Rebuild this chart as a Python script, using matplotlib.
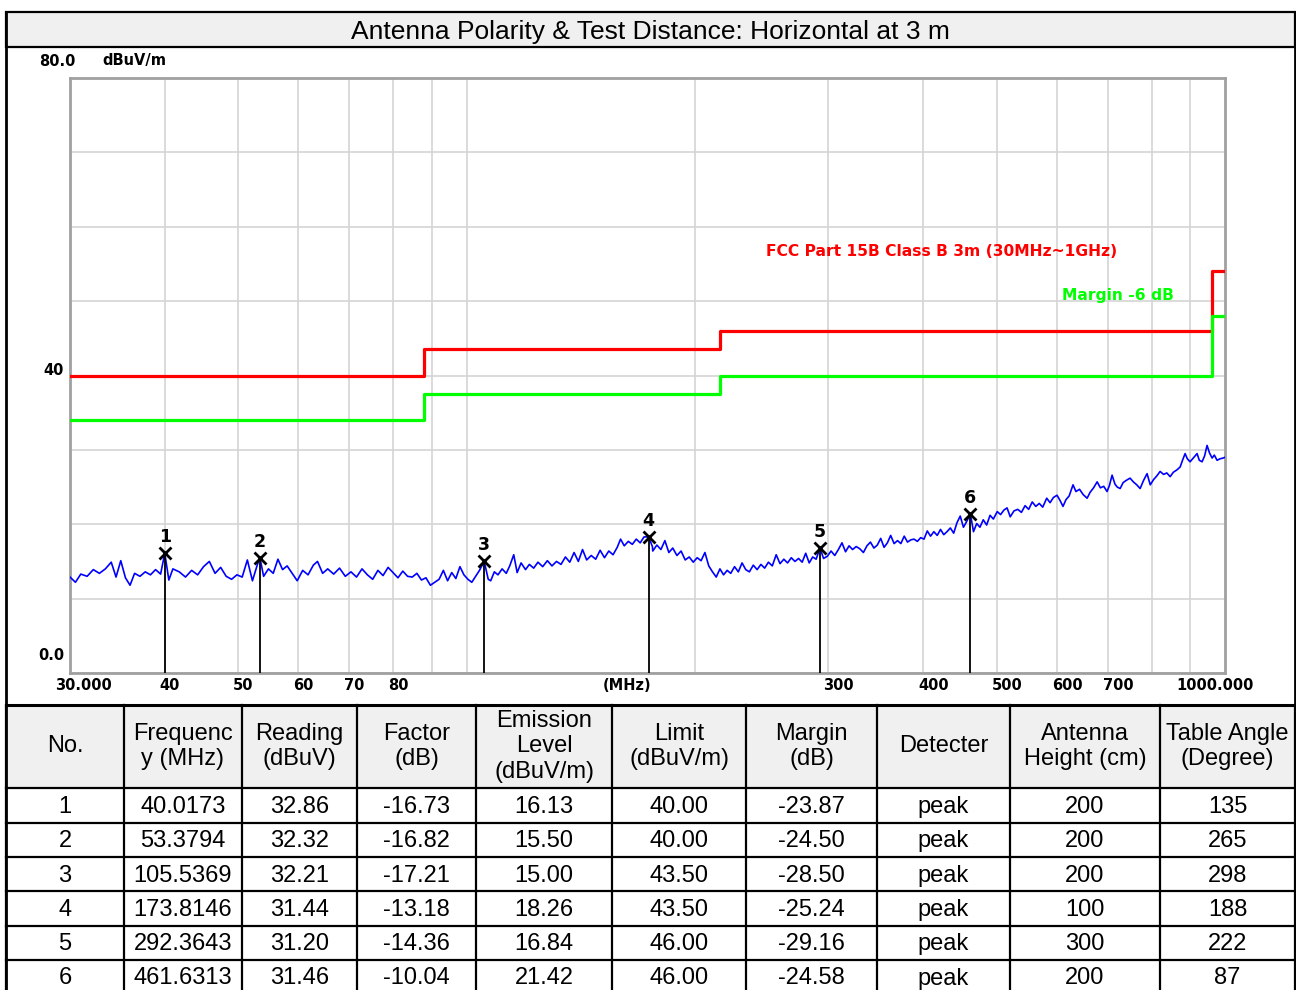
import matplotlib
matplotlib.use("Agg")
import matplotlib.pyplot as plt
from matplotlib.lines import Line2D
from matplotlib.patches import Rectangle
from matplotlib.ticker import NullLocator

W, H = 1296, 990

TITLE = "Antenna Polarity & Test Distance: Horizontal at 3 m"
LIMIT_NAME = "FCC Part 15B Class B 3m (30MHz~1GHz)"
MARGIN_NAME = "Margin -6 dB"

# limit line (step, post)
LIMIT_FREQ = [30, 88, 216, 960, 1000]
LIMIT_LEVEL = [40, 43.5, 46, 54, 54]
MARGIN_LEVEL = [34, 37.5, 40, 48, 48]

TRACE_FREQ = [
    30.0, 30.5, 31.0, 31.6, 32.2, 32.8, 33.4, 34.0, 34.5, 35.0, 35.5, 36.0, 36.5, 37.1, 37.7,
    38.3, 38.9, 39.5, 40.0, 40.5, 41.0,
    41.8, 42.6, 43.4, 44.2, 45.0, 45.8, 46.6, 47.4, 48.2, 49.0, 49.8, 50.6, 51.4, 52.2, 53.0,
    53.4, 54.0, 54.8,
    55.6, 56.4, 57.2, 58.0, 58.8, 59.8, 60.8, 61.8, 62.8, 63.6, 64.6, 65.6, 66.8, 68.0, 69.2,
    70.4, 71.6, 72.8, 74.0, 75.2, 76.4, 77.6, 78.8, 80.0, 81.2, 82.4, 83.6, 84.8, 86.0, 87.2,
    88.4, 89.6, 90.8, 92.0, 93.2, 94.4, 95.6, 96.8, 98.0, 99.2, 100.4, 101.6, 102.8, 104.0,
    105.5, 106.8,
    107.6, 108.8, 110.0, 111.4, 112.8, 114.0, 115.4, 116.6, 118.0, 119.6, 121.0, 122.6, 124.2,
    126.0, 127.8, 129.6, 131.4, 133.2, 135.0, 136.8, 138.6, 140.4, 142.2, 144.0, 146.0, 148.0,
    150.0, 152.0, 154.0, 156.0, 158.0, 159.6, 161.4, 163.4, 165.4, 167.4, 169.4, 171.4, 173.8,
    175.8,
    176.0, 178.2, 180.4, 182.6, 184.8, 187.0, 189.4, 191.8, 194.2, 196.6, 199.0, 201.4, 203.8,
    206.2, 208.6, 211.0, 213.4, 215.8, 218.2, 220.6, 223.0, 225.6, 228.2, 230.8, 233.4, 236.0,
    238.8, 241.6, 244.4, 247.2, 250.0, 253.0, 256.0, 259.0, 262.0, 265.0, 268.0, 271.0, 274.0,
    277.0, 280.0, 283.0, 286.0, 289.0, 292.4, 295.6,
    299.0, 302.4, 305.8, 309.2, 312.6, 316.0, 319.4, 322.8, 326.4, 330.0, 333.6, 337.2, 340.8,
    344.4, 348.0, 351.6, 355.2, 358.8, 362.4, 366.2, 370.0, 373.8, 377.6, 381.4, 385.2, 389.0,
    393.0, 397.0, 401.0, 405.0, 409.0, 413.2, 417.4, 421.6, 425.8, 430.0, 434.4, 438.8, 443.2,
    447.6, 452.0, 456.6, 461.6, 466.0, 470.6, 475.2,
    480.0, 485.0, 490.0, 495.0, 500.8, 506.0, 511.0, 516.0, 521.0, 527.0, 533.0, 539.0, 545.0,
    551.0, 557.0, 563.0, 569.0, 575.0, 582.0, 588.0, 594.0, 600.5, 606.0, 611.5, 617.0, 623.0,
    630.4, 636.0, 643.0, 650.0, 657.9, 664.0, 671.0, 678.3, 685.0, 692.0, 699.0, 704.0, 709.8,
    716.0, 721.0, 727.3, 734.0, 741.0, 749.6, 757.0, 765.0, 772.8, 781.0, 789.3, 797.0, 805.0,
    813.0, 821.2, 830.0, 838.0, 846.6, 855.0, 864.0, 872.7, 879.0, 885.9, 892.0, 899.4, 908.0,
    918.7, 925.0, 932.8, 940.0, 947.0, 954.0, 961.6, 968.0, 976.3, 985.0, 994.3, 1000.0,
]
TRACE_LEVEL = [
    12.9, 12.2, 13.3, 13.0, 13.9, 13.4, 14.0, 14.9, 12.9, 15.1, 12.8, 11.8, 13.4, 13.0, 13.6,
    13.2, 13.9, 13.3, 16.1, 12.5, 14.0,
    13.6, 12.9, 13.8, 13.2, 14.3, 15.0, 13.4, 14.2, 13.0, 12.6, 13.2, 12.9, 15.2, 12.4, 14.6,
    15.5, 13.0, 14.0,
    13.4, 15.3, 13.9, 14.4, 13.5, 12.4, 13.8, 13.2, 14.5, 15.0, 13.4, 14.0, 13.3, 14.1, 13.0,
    13.6, 12.9, 14.0, 13.2, 12.6, 13.8, 13.1, 14.2, 13.5, 12.8, 13.7, 13.0, 12.9, 13.4, 12.5,
    12.8, 11.8, 12.2, 12.6, 13.8, 12.4, 13.5, 12.7, 14.3, 13.2, 12.6, 12.2, 13.0, 13.8,
    15.0, 12.6,
    12.4, 13.6, 13.2, 14.0, 13.4, 14.4, 15.9, 13.5, 14.8, 13.9, 14.6, 14.1, 14.9,
    14.3, 15.1, 14.4, 15.0, 14.6, 15.6, 14.9, 16.2, 15.0, 16.6, 15.2, 15.8, 15.3,
    16.5, 15.5, 16.4, 15.9, 16.9, 18.0, 17.1, 17.7, 17.3, 18.0, 17.5, 18.3, 18.3,
    17.0,
    16.4, 17.2, 16.6, 17.8, 16.2, 16.8, 15.8, 16.4, 15.2, 15.6, 14.9, 15.5, 15.1,
    16.2, 14.4, 13.6, 12.9, 14.0, 13.2, 13.8, 13.4, 14.3, 13.6, 14.8, 13.9, 13.6,
    14.5, 13.9, 14.6, 14.1, 14.9, 14.4, 15.9, 14.7, 15.3, 14.8, 15.5, 15.0, 15.4,
    14.9, 16.1, 14.8, 15.6, 15.3, 16.8, 15.4,
    15.7, 16.4, 15.8, 16.6, 17.5, 16.3, 17.1, 16.6, 17.0, 16.7, 16.2, 17.1, 17.6,
    16.8, 17.2, 18.1, 16.9, 17.5, 18.5, 17.4, 17.8, 17.4, 18.4, 17.6, 17.9, 18.0,
    17.7, 18.2, 18.0, 19.1, 18.4, 19.0, 18.5, 19.3, 18.6, 19.0, 19.5, 18.8, 20.2,
    21.1, 19.6, 20.4, 21.4, 19.0, 20.1, 19.6,
    20.6, 19.9, 21.2, 20.7, 21.7, 21.3, 21.9, 22.2, 21.0, 21.8, 22.0, 21.6, 22.5,
    22.0, 23.0, 22.4, 22.8, 22.3, 23.5, 22.9, 23.6, 23.9, 23.2, 22.4, 23.3, 23.8,
    25.3, 24.4, 24.7, 24.0, 23.5, 24.3, 24.9, 25.7, 24.9, 25.1, 24.4, 25.2, 26.6,
    25.4, 25.0, 24.8, 25.6, 25.9, 26.2, 25.7, 25.3, 24.8, 25.9, 26.8, 25.3, 26.0,
    26.5, 27.1, 26.7, 26.9, 26.4, 27.0, 27.3, 27.7, 28.6, 29.5, 28.8, 28.4, 28.9,
    29.5, 28.6, 28.4, 29.2, 30.6, 29.6, 28.9, 29.3, 28.6, 28.8, 28.9, 29.0,
]

MARK_NO = [1, 2, 3, 4, 5, 6]
MARK_FREQ = [40.0173, 53.3794, 105.5369, 173.8146, 292.3643, 461.6313]
READING = [32.86, 32.32, 32.21, 31.44, 31.20, 31.46]
FACTOR = [-16.73, -16.82, -17.21, -13.18, -14.36, -10.04]
EMISSION = [16.13, 15.50, 15.00, 18.26, 16.84, 21.42]
LIMIT = [40.00, 40.00, 43.50, 43.50, 46.00, 46.00]
MARGIN = [-23.87, -24.50, -28.50, -25.24, -29.16, -24.58]
DETECTOR = ["peak"] * 6
ANT_HEIGHT = [200, 200, 200, 100, 300, 200]
TABLE_ANGLE = [135, 265, 298, 188, 222, 87]

HEADERS = ["No.", "Frequenc\ny (MHz)", "Reading\n(dBuV)", "Factor\n(dB)",
           "Emission\nLevel\n(dBuV/m)", "Limit\n(dBuV/m)", "Margin\n(dB)", "Detecter",
           "Antenna\nHeight (cm)", "Table Angle\n(Degree)"]

X_GRID = [40, 50, 60, 70, 80, 90, 100, 200, 300, 400, 500, 600, 700, 800, 900]
X_LABELS = [40, 50, 60, 70, 80, 300, 400, 500, 600, 700]

COL_EDGES = [6, 124, 242, 357, 476, 612, 746, 877, 1010, 1160, 1295]
ROW_EDGES = [705, 788, 823, 857, 891, 926, 960]

AX_FONT = dict(family="DejaVu Sans", fontweight="bold", fontsize=10.5)
TAB_FONT = dict(family="Liberation Sans", fontsize=17)


def fx(x):
    return x / W


def fy(y):
    return 1 - y / H


def fig_line(fig, x0, y0, x1, y1, lw=1.5, color="black"):
    fig.add_artist(Line2D([fx(x0), fx(x1)], [fy(y0), fy(y1)], transform=fig.transFigure,
                          color=color, lw=lw))


def draw_chart(fig):
    ax = fig.add_axes([fx(70), fy(673), 1155 / W, 595 / H])
    ax.set_xscale("log")
    ax.set_xlim(30, 1000)
    ax.set_ylim(0, 80)
    ax.xaxis.set_minor_locator(NullLocator())
    ax.set_xticks(X_GRID)
    ax.set_xticklabels([])
    ax.set_yticks(range(0, 81, 10))
    ax.set_yticklabels([])
    ax.tick_params(length=0)
    ax.grid(True, color="#d4d4d4", lw=1.2)
    for sp in ax.spines.values():
        sp.set_color("#a0a0a0")
        sp.set_linewidth(2)

    ax.step(LIMIT_FREQ, LIMIT_LEVEL, where="post", color="#ff0000", lw=2.3, zorder=3)
    ax.step(LIMIT_FREQ, MARGIN_LEVEL, where="post", color="#00ff00", lw=2.3, zorder=3)
    ax.plot(TRACE_FREQ, TRACE_LEVEL, color="#0000ff", lw=1.2, zorder=4)

    ax.vlines(MARK_FREQ, 0, EMISSION, color="black", lw=1.3, zorder=5)
    ax.plot(MARK_FREQ, EMISSION, "x", color="black", ms=9, mew=2, zorder=6)
    for n, f, lv in zip(MARK_NO, MARK_FREQ, EMISSION):
        ax.annotate(str(n), (f, lv), xytext=(0, 16), textcoords="offset pixels",
                    ha="center", va="center", fontsize=12.5, fontweight="bold",
                    family="DejaVu Sans", zorder=6)

    name_font = dict(AX_FONT, fontsize=11.2)
    ax.text(0.6026, 56.7, LIMIT_NAME, transform=ax.get_yaxis_transform(), color="#ff0000",
            ha="left", va="center", **name_font)
    ax.text(0.859, 50.7, MARGIN_NAME, transform=ax.get_yaxis_transform(), color="#00ff00",
            ha="left", va="center", **name_font)

    # y labels
    ax.annotate("80.0", (0, 80), xycoords=("axes fraction", "data"), xytext=(-13, 17),
                textcoords="offset pixels", ha="center", va="center", **AX_FONT)
    ax.annotate("dBuV/m", (0, 80), xycoords=("axes fraction", "data"), xytext=(32, 17),
                textcoords="offset pixels", ha="left", va="center", **AX_FONT)
    ax.annotate("40", (0, 40), xycoords=("axes fraction", "data"), xytext=(-16, 5),
                textcoords="offset pixels", ha="center", va="center", **AX_FONT)
    ax.annotate("0.0", (0, 0), xycoords=("axes fraction", "data"), xytext=(-19, 18),
                textcoords="offset pixels", ha="center", va="center", **AX_FONT)

    # x labels
    xa = ("data", "axes fraction")
    for f in X_LABELS:
        ax.annotate(str(f), (f, 0), xycoords=xa, xytext=(-5, -13), textcoords="offset pixels",
                    ha="left", va="center", **AX_FONT)
    ax.annotate("30.000", (30, 0), xycoords=xa, xytext=(13, -13), textcoords="offset pixels",
                ha="center", va="center", **AX_FONT)
    ax.annotate("1000.000", (1000, 0), xycoords=xa, xytext=(-10, -13),
                textcoords="offset pixels", ha="center", va="center", **AX_FONT)
    ax.annotate("(MHz)", (163, 0), xycoords=xa, xytext=(0, -13), textcoords="offset pixels",
                ha="center", va="center", **AX_FONT)
    return ax


def draw_table(fig):
    fig.add_artist(Rectangle((fx(6), fy(788)), fx(1295) - fx(6), fy(705) - fy(788),
                             transform=fig.transFigure, facecolor="#f0f0f0", edgecolor="none"))
    for y in ROW_EDGES:
        fig_line(fig, 6, y, 1295, y, lw=2.2 if y == 705 else 1.6)
    for x in COL_EDGES:
        fig_line(fig, x, 705, x, H, lw=1.6)

    centers = [(a + b) / 2 for a, b in zip(COL_EDGES[:-1], COL_EDGES[1:])]
    for cx, head in zip(centers, HEADERS):
        fig.text(fx(cx), fy(746.5), head, ha="center", va="center", linespacing=1.2,
                 **TAB_FONT)

    for i in range(len(MARK_NO)):
        row = [str(MARK_NO[i]), f"{MARK_FREQ[i]:.4f}", f"{READING[i]:.2f}",
               f"{FACTOR[i]:.2f}", f"{EMISSION[i]:.2f}", f"{LIMIT[i]:.2f}",
               f"{MARGIN[i]:.2f}", DETECTOR[i], str(ANT_HEIGHT[i]), str(TABLE_ANGLE[i])]
        cy = 807 + i * 34.3
        for cx, val in zip(centers, row):
            fig.text(fx(cx), fy(cy), val, ha="center", va="center", **TAB_FONT)


def main():
    fig = plt.figure(figsize=(W / 100, H / 100), dpi=100)
    fig.patch.set_facecolor("white")

    # title bar and outer frame
    fig.add_artist(Rectangle((fx(6), fy(47)), fx(1295) - fx(6), fy(12) - fy(47),
                             transform=fig.transFigure, facecolor="#f0f0f0",
                             edgecolor="black", lw=1.6))
    fig.text(fx(650), fy(32), TITLE, ha="center", va="center", family="Liberation Sans",
             fontsize=19)
    fig_line(fig, 6, 12, 6, H, lw=2)
    fig_line(fig, 1295, 12, 1295, H, lw=2)

    draw_chart(fig)
    draw_table(fig)

    fig.savefig("out.png", dpi=100)


if __name__ == "__main__":
    main()
